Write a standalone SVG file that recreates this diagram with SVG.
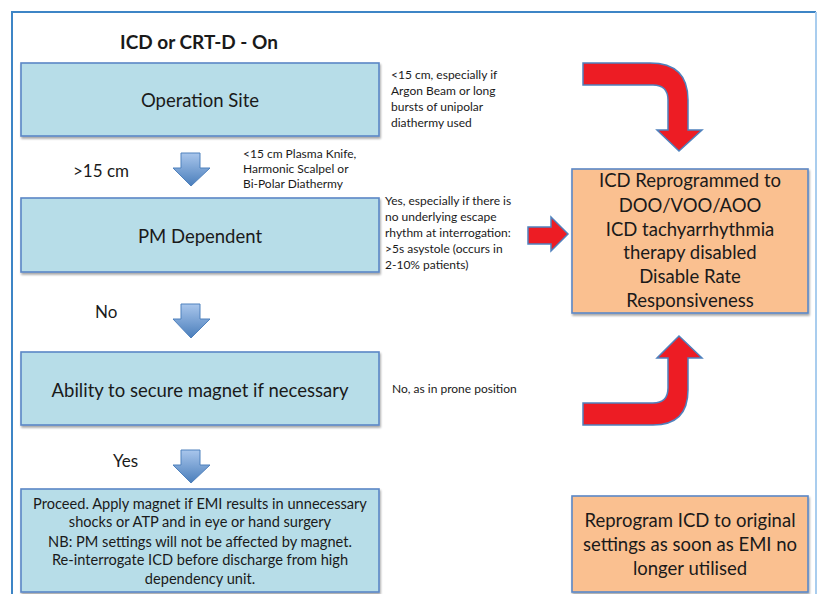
<svg xmlns="http://www.w3.org/2000/svg" width="817" height="594" viewBox="0 0 817 594">
<defs>
<style>
text{font-family:Lato,"Open Sans","Liberation Sans",sans-serif;fill:#1a1a1a}
.box{fill:#b7dde8;stroke:#5b87c6;stroke-width:1.6}
.obox{fill:#fac090;stroke:#5b87c6;stroke-width:1.6}
.main{font-size:18.5px;text-anchor:middle}
.otx{font-size:18.5px;text-anchor:middle}
.note{font-size:12px}
.proc{font-size:14.6px;text-anchor:middle}
.lbl{font-size:17px}
.red{fill:#ed1c24;stroke:#4f81bd;stroke-width:1.5;stroke-linejoin:miter}
.blu{fill:url(#bg);stroke:#4f81bd;stroke-width:1}
</style>
<linearGradient id="bg" x1="0" y1="0" x2="0" y2="1">
<stop offset="0" stop-color="#a9c6ec"/>
<stop offset="1" stop-color="#4a7ebb"/>
</linearGradient>
<filter id="sh" x="-5%" y="-5%" width="110%" height="120%">
<feGaussianBlur in="SourceAlpha" stdDeviation="1.2"/>
<feOffset dx="1" dy="2" result="o"/>
<feComponentTransfer><feFuncA type="linear" slope="0.35"/></feComponentTransfer>
<feMerge><feMergeNode/><feMergeNode in="SourceGraphic"/></feMerge>
</filter>
</defs>
<rect x="0" y="0" width="817" height="594" fill="#ffffff"/>
<g id="frame">
<path d="M12,594 L12,12 L816,12" fill="none" stroke="#3d85c6" stroke-width="2"/>
<line x1="816" y1="12" x2="816" y2="594" stroke="#a9cdee" stroke-width="2"/>
</g>
<g id="title"><text x="199" y="49" text-anchor="middle" font-weight="bold" font-size="19px">ICD or CRT-D - On</text></g>
<g id="connectors">
<path class="blu" d="M181,153 L200,153 L200,168 L210,168 L191,186 L173,168 L181,168 Z"/>
<path class="blu" d="M181,304 L200,304 L200,319 L210,319 L191,338 L173,319 L181,319 Z"/>
<path class="blu" d="M181,450 L200,450 L200,465 L210,465 L191,483 L173,465 L181,465 Z"/>
<path class="red" d="M528,227 L551,227 L551,217 L568,234 L551,251 L551,244 L528,244 Z"/>
<path class="red" d="M583,63 L650,63 Q688,63 688,100 L688,130 L702,130 L679,151 L657,130 L668,130 L668,100 Q668,85 653,85 L583,85 Z"/>
<path class="red" d="M583,403 L653,403 Q668,403 668,388 L668,358 L657,358 L679,336 L702,358 L688,358 L688,390 Q688,425 653,425 L583,425 Z"/>
<text class="lbl" x="73" y="177">&gt;15 cm</text>
<text class="lbl" x="95" y="318" font-size="16px">No</text>
<text class="lbl" x="113" y="467" font-size="16px">Yes</text>
<text class="note" x="243"><tspan x="243" y="158">&lt;15 cm Plasma Knife,</tspan><tspan x="243" y="173">Harmonic Scalpel or</tspan><tspan x="243" y="188">Bi-Polar Diathermy</tspan></text>
<text class="note"><tspan x="391" y="79">&lt;15 cm, especially if</tspan><tspan x="391" y="95">Argon Beam or long</tspan><tspan x="391" y="111">bursts of unipolar</tspan><tspan x="391" y="127">diathermy used</tspan></text>
<text class="note"><tspan x="385" y="205">Yes, especially if there is</tspan><tspan x="385" y="221">no underlying escape</tspan><tspan x="385" y="237">rhythm at interrogation:</tspan><tspan x="385" y="253">&gt;5s asystole (occurs in</tspan><tspan x="385" y="269">2-10% patients)</tspan></text>
<text class="note" x="392" y="393">No, as in prone position</text>
</g>
<g id="operation-site">
<rect class="box" x="21" y="63" width="358" height="73" filter="url(#sh)"/>
<text class="main" x="200" y="107">Operation Site</text>
</g>
<g id="pm-dependent">
<rect class="box" x="21" y="198" width="358" height="74" filter="url(#sh)"/>
<text class="main" x="200" y="243">PM Dependent</text>
</g>
<g id="ability-magnet">
<rect class="box" x="21" y="352" width="358" height="73" filter="url(#sh)"/>
<text class="main" x="200" y="397">Ability to secure magnet if necessary</text>
</g>
<g id="proceed">
<rect class="box" x="21" y="489" width="358" height="103" filter="url(#sh)"/>
<text class="proc"><tspan x="200" y="509">Proceed. Apply magnet if EMI results in unnecessary</tspan><tspan x="200" y="527">shocks or ATP and in eye or hand surgery</tspan><tspan x="200" y="547">NB: PM settings will not be affected by magnet.</tspan><tspan x="200" y="565">Re-interrogate ICD before discharge from high</tspan><tspan x="200" y="584">dependency unit.</tspan></text>
</g>
<g id="icd-reprogrammed">
<rect class="obox" x="572" y="169" width="236" height="144" filter="url(#sh)"/>
<text class="otx"><tspan x="690" y="187">ICD Reprogrammed to</tspan><tspan x="690" y="212">DOO/VOO/AOO</tspan><tspan x="690" y="236">ICD tachyarrhythmia</tspan><tspan x="690" y="259">therapy disabled</tspan><tspan x="690" y="283">Disable Rate</tspan><tspan x="690" y="307">Responsiveness</tspan></text>
</g>
<g id="reprogram-original">
<rect class="obox" x="572" y="496" width="236" height="96" filter="url(#sh)"/>
<text class="otx"><tspan x="690" y="527">Reprogram ICD to original</tspan><tspan x="690" y="551">settings as soon as EMI no</tspan><tspan x="690" y="575">longer utilised</tspan></text>
</g>
</svg>
